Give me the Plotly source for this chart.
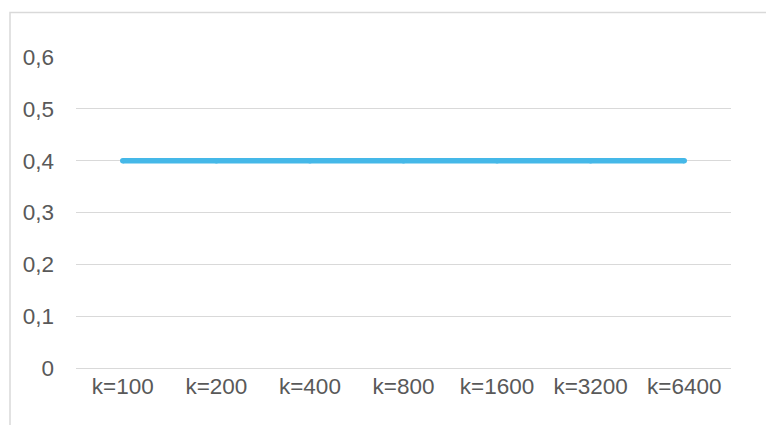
import plotly.graph_objects as go

# Categories and values
categories = ["k=100", "k=200", "k=400", "k=800", "k=1600", "k=3200", "k=6400"]
values = [0.4, 0.4, 0.4, 0.4, 0.4, 0.4, 0.4]

LINE_COLOR = "#45B8E8"

fig = go.Figure(
    go.Scatter(
        x=categories,
        y=values,
        mode="lines+markers",
        line=dict(color=LINE_COLOR, width=5.5),
        # small round markers give the line rounded ends
        marker=dict(color=LINE_COLOR, size=5.5, line=dict(width=0)),
        hoverinfo="skip",
    )
)

W, H = 766, 425
L, R, T, B = 76, 35, 57, 57
pw, ph = W - L - R, H - T - B

# Light outer frame around the chart area
fig.add_shape(
    type="rect",
    xref="paper", yref="paper",
    x0=(10 - L) / pw, x1=1.3,
    y0=-0.5, y1=(H - B - 12.5) / ph,
    line=dict(color="#D9D9D9", width=1.5),
    layer="below",
)

fig.update_layout(
    width=W, height=H,
    margin=dict(l=L, r=R, t=T, b=B),
    paper_bgcolor="white",
    plot_bgcolor="white",
    showlegend=False,
    separators=", ",
    font=dict(family="Liberation Sans, Arial, sans-serif", size=22.5, color="#595959"),
    xaxis=dict(
        type="category",
        showgrid=False,
        showline=False,
        zeroline=False,
        ticks="",
        ticklabelstandoff=2,
        range=[-0.5, 6.5],
        fixedrange=True,
    ),
    yaxis=dict(
        range=[0, 0.6],
        dtick=0.1,
        tick0=0,
        showgrid=True,
        gridcolor="#D9D9D9",
        gridwidth=1.2,
        zeroline=True,
        zerolinecolor="#D9D9D9",
        zerolinewidth=1.2,
        showline=False,
        ticks="",
        ticklabelstandoff=21,
        fixedrange=True,
    ),
)

fig.write_html("out.html")
